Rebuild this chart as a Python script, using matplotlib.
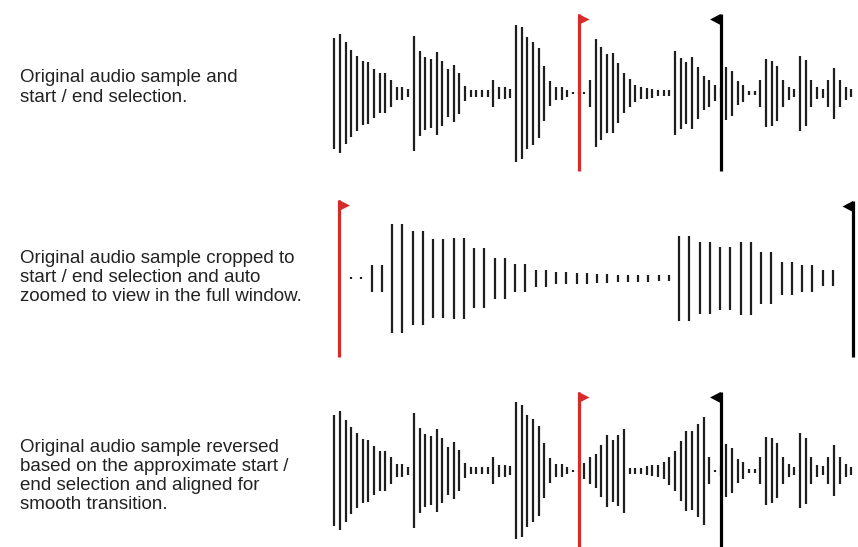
import numpy as np
import matplotlib
matplotlib.use("Agg")
import matplotlib.pyplot as plt
from matplotlib.patches import Polygon

plt.rcParams["font.family"] = ["Liberation Sans", "DejaVu Sans"]

INK = "#1e1e1e"
RED = "#d62b2b"

# bar heights (px) of the waveform
original = [111, 119, 102, 87, 75, 64, 62, 49, 40, 40, 27, 13, 13, 8,
            115, 85, 73, 69, 83, 65, 48, 57, 41, 15, 7, 7, 7, 7, 27, 12, 12, 9,
            137, 132, 112, 103, 90, 55, 25, 13, 13, 7, 2, 2, 2, 27,
            108, 93, 79, 80, 60, 40, 28, 17, 12, 11, 9, 6, 6, 6,
            84, 71, 62, 72, 52, 34, 27, 16, 10,
            53, 45, 24, 17, 4, 4, 27, 68, 65, 55, 27, 13, 8,
            75, 66, 27, 12, 9, 27, 51, 27, 13, 8]

cropped = [2, 2, 27, 27, 109, 109, 94, 94, 79, 79, 81, 81, 60, 60, 41, 41,
           28, 28, 17, 17, 12, 12, 11, 11, 9, 9, 7, 7, 7, 7, 6, 6,
           85, 85, 72, 72, 63, 63, 73, 73, 52, 52, 33, 33, 27, 27, 16, 16]

reversed_ = [111, 119, 102, 87, 75, 64, 62, 49, 40, 40, 27, 13, 13, 8,
             115, 85, 73, 69, 83, 65, 48, 57, 41, 15, 7, 7, 7, 7, 27, 12, 12, 9,
             137, 132, 112, 103, 90, 55, 25, 13, 13, 7, 2, 2,
             16, 27, 34, 52, 72, 62, 71, 84, 6, 6, 6, 9, 11, 12, 17, 28,
             40, 60, 80, 79, 93, 108, 27, 2, 10,
             53, 45, 24, 17, 4, 4, 27, 68, 65, 55, 27, 13, 8,
             75, 66, 27, 12, 9, 27, 51, 27, 13, 8]

start_idx = 43   # red flag sample index
end_idx = 68     # black flag sample index

labels = [
    "Original audio sample and\nstart / end selection.",
    "Original audio sample cropped to\nstart / end selection and auto\nzoomed to view in the full window.",
    "Original audio sample reversed\nbased on the approximate start /\nend selection and aligned for\nsmooth transition.",
]

fig = plt.figure(figsize=(8.58, 5.47), dpi=100)
ax = fig.add_axes([0, 0, 1, 1])
ax.set_xlim(0, 858)
ax.set_ylim(547, 0)
ax.axis("off")


def wave(heights, x0, dx, yc):
    h = np.asarray(heights, dtype=float)
    x = x0 + dx * np.arange(len(h))
    ax.vlines(x, yc - h / 2, yc + h / 2, color=INK, lw=1.6)
    return x


def flag(x, top, bottom, color, right=True):
    ax.vlines(x, top, bottom, color=color, lw=2.3, zorder=5)
    tip = x + 11 if right else x - 10.5
    ax.add_patch(Polygon([(x, top), (tip, top + 5.5), (x, top + 11)],
                         closed=True, color=color, lw=0, zorder=5))


# row 1
xs = wave(original, 334.3, 5.68, 93)
flag(xs[start_idx], 14, 171, RED, right=True)
flag(xs[end_idx], 14, 171, "black", right=False)

# row 2
wave(cropped, 351, 10.25, 278.3)
flag(339, 200, 357, RED, right=True)
flag(853, 201, 357, "black", right=False)

# row 3
xs = wave(reversed_, 334.3, 5.68, 470.8)
flag(xs[start_idx], 392, 547, RED, right=True)
flag(xs[end_idx], 392, 547, "black", right=False)

for lab, ytop in zip(labels, [69.5, 250, 439]):
    ax.text(20, ytop, lab, fontsize=13.5, color="#222222", ha="left", va="top",
            linespacing=1.16)

fig.savefig("out.png", dpi=100)
